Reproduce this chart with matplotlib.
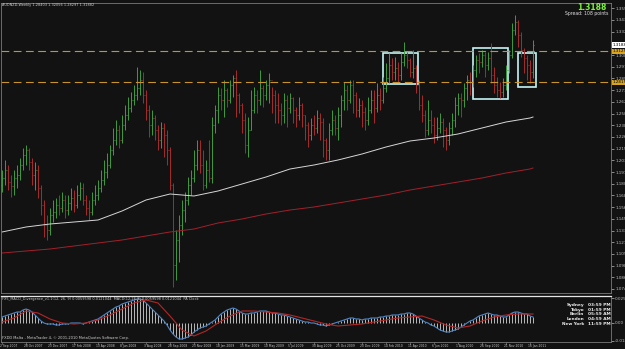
import matplotlib
matplotlib.use('Agg')
import matplotlib.pyplot as plt
from matplotlib.patches import Rectangle
from matplotlib.transforms import blended_transform_factory
import numpy as np

# ---------------- data ----------------
closes = [1.1858, 1.1938, 1.1818, 1.1778, 1.1858, 1.1888, 1.1988, 1.2088, 1.2138, 1.2018,
          1.1888, 1.1938, 1.1758, 1.1588, 1.1388, 1.1338, 1.1488, 1.1518, 1.1588, 1.1558,
          1.1638, 1.1538, 1.1608, 1.1658, 1.1588, 1.1688, 1.1758, 1.1638, 1.1558, 1.1518,
          1.1638, 1.1688, 1.1758, 1.1838, 1.1918, 1.1988, 1.2138, 1.2238, 1.2338, 1.2238,
          1.2388, 1.2488, 1.2558, 1.2638, 1.2688, 1.2758, 1.2838, 1.2688, 1.2538, 1.2388,
          1.2458, 1.2338, 1.2238, 1.2358, 1.2288, 1.2138, 1.1788, 1.0988, 1.1238, 1.1388,
          1.1538, 1.1638, 1.1788, 1.1858, 1.1988, 1.2138, 1.1988, 1.1788, 1.1938, 1.1858,
          1.2388, 1.2538, 1.2688, 1.2638, 1.2738, 1.2638, 1.2788, 1.2858, 1.2688, 1.2588,
          1.2438, 1.2188, 1.2338, 1.2538, 1.2688, 1.2638, 1.2758, 1.2688, 1.2788, 1.2838,
          1.2688, 1.2588, 1.2538, 1.2488, 1.2638, 1.2558, 1.2658, 1.2538, 1.2488, 1.2588,
          1.2488, 1.2388, 1.2288, 1.2388, 1.2358, 1.2458, 1.2418, 1.2238, 1.2138, 1.2338,
          1.2438, 1.2358, 1.2488, 1.2638, 1.2738, 1.2638, 1.2788, 1.2688, 1.2538, 1.2588,
          1.2518, 1.2438, 1.2538, 1.2638, 1.2558, 1.2688, 1.2638, 1.2758, 1.2858, 1.2988,
          1.2918, 1.2958, 1.2888, 1.3018, 1.3088, 1.3038, 1.2918, 1.2958, 1.2788, 1.2588,
          1.2488, 1.2338, 1.2438, 1.2388, 1.2288, 1.2358, 1.2418, 1.2338, 1.2238, 1.2358,
          1.2438, 1.2588, 1.2658, 1.2638, 1.2758, 1.2838, 1.2818, 1.2938, 1.3038, 1.3018,
          1.3088, 1.2988, 1.3058, 1.2888, 1.2788, 1.2738, 1.2718, 1.2788, 1.2938, 1.3088,
          1.3338, 1.3418, 1.3288, 1.3138, 1.3058, 1.2988, 1.2918, 1.3188]

highs = [1.1938, 1.2038, 1.1988, 1.1888, 1.1938, 1.1988, 1.2058, 1.2158, 1.2188, 1.2158,
         1.2058, 1.2018, 1.1988, 1.1788, 1.1638, 1.1488, 1.1558, 1.1638, 1.1658, 1.1688,
         1.1718, 1.1688, 1.1688, 1.1758, 1.1738, 1.1788, 1.1818, 1.1808, 1.1688, 1.1638,
         1.1718, 1.1788, 1.1838, 1.1938, 1.2038, 1.2108, 1.2188, 1.2358, 1.2438, 1.2388,
         1.2488, 1.2588, 1.2668, 1.2718, 1.2788, 1.2968, 1.2938, 1.2918, 1.2738, 1.2588,
         1.2538, 1.2488, 1.2388, 1.2418, 1.2408, 1.2338, 1.2168, 1.1808, 1.1338, 1.1488,
         1.1638, 1.1718, 1.1868, 1.1938, 1.2138, 1.2238, 1.2238, 1.2138, 1.2038, 1.2238,
         1.2468, 1.2588, 1.2768, 1.2758, 1.2838, 1.2758, 1.2838, 1.2888, 1.2938, 1.2708,
         1.2608, 1.2508, 1.2468, 1.2738, 1.2768, 1.2738, 1.2938, 1.2788, 1.2838, 1.2908,
         1.2768, 1.2738, 1.2708, 1.2608, 1.2708, 1.2688, 1.2708, 1.2668, 1.2568, 1.2668,
         1.2608, 1.2488, 1.2418, 1.2458, 1.2488, 1.2538, 1.2508, 1.2458, 1.2258, 1.2408,
         1.2538, 1.2488, 1.2568, 1.2688, 1.2818, 1.2788, 1.2838, 1.2838, 1.2718, 1.2658,
         1.2638, 1.2568, 1.2668, 1.2738, 1.2738, 1.2808, 1.2758, 1.2868, 1.3008, 1.3108,
         1.3058, 1.3068, 1.3018, 1.3108, 1.3218, 1.3118, 1.3058, 1.3138, 1.2988, 1.2838,
         1.2688, 1.2538, 1.2638, 1.2538, 1.2468, 1.2468, 1.2508, 1.2458, 1.2368, 1.2418,
         1.2508, 1.2668, 1.2708, 1.2708, 1.2808, 1.2888, 1.2918, 1.2988, 1.3088, 1.3108,
         1.3138, 1.3118, 1.3118, 1.3208, 1.2968, 1.2868, 1.2818, 1.2858, 1.2988, 1.3138,
         1.3408, 1.3488, 1.3438, 1.3318, 1.3158, 1.3088, 1.3038, 1.3238]

lows = [1.1718, 1.1788, 1.1738, 1.1668, 1.1688, 1.1758, 1.1838, 1.1938, 1.1988, 1.1938,
        1.1788, 1.1738, 1.1658, 1.1488, 1.1268, 1.1238, 1.1288, 1.1418, 1.1458, 1.1488,
        1.1518, 1.1458, 1.1488, 1.1538, 1.1518, 1.1558, 1.1638, 1.1588, 1.1488, 1.1438,
        1.1488, 1.1588, 1.1638, 1.1718, 1.1788, 1.1858, 1.1958, 1.2088, 1.2188, 1.2158,
        1.2208, 1.2338, 1.2438, 1.2518, 1.2588, 1.2638, 1.2688, 1.2608, 1.2438, 1.2268,
        1.2288, 1.2238, 1.2138, 1.2158, 1.2068, 1.1988, 1.1738, 1.0768, 1.0838, 1.1018,
        1.1288, 1.1418, 1.1588, 1.1688, 1.1818, 1.1938, 1.1908, 1.1738, 1.1758, 1.1818,
        1.1808, 1.2308, 1.2408, 1.2538, 1.2468, 1.2568, 1.2608, 1.2668, 1.2468, 1.2508,
        1.2308, 1.2108, 1.2068, 1.2338, 1.2508, 1.2508, 1.2588, 1.2568, 1.2638, 1.2608,
        1.2508, 1.2408, 1.2408, 1.2388, 1.2408, 1.2368, 1.2508, 1.2408, 1.2368, 1.2438,
        1.2368, 1.2238, 1.2168, 1.2238, 1.2288, 1.2308, 1.2238, 1.2068, 1.2038, 1.2038,
        1.2288, 1.2288, 1.2238, 1.2368, 1.2538, 1.2538, 1.2608, 1.2508, 1.2468, 1.2468,
        1.2368, 1.2338, 1.2388, 1.2508, 1.2408, 1.2518, 1.2538, 1.2608, 1.2718, 1.2808,
        1.2838, 1.2838, 1.2818, 1.2838, 1.2978, 1.2958, 1.2868, 1.2858, 1.2708, 1.2538,
        1.2418, 1.2268, 1.2288, 1.2308, 1.2208, 1.2238, 1.2308, 1.2168, 1.2138, 1.2188,
        1.2288, 1.2368, 1.2488, 1.2468, 1.2568, 1.2638, 1.2688, 1.2768, 1.2868, 1.2908,
        1.2968, 1.2868, 1.2938, 1.2808, 1.2708, 1.2668, 1.2658, 1.2668, 1.2738, 1.2908,
        1.3058, 1.3288, 1.3168, 1.3068, 1.2908, 1.2838, 1.2808, 1.2858]

first_open = 1.1788

ma_weeks = [0, 8, 16, 24, 32, 40, 48, 56, 64, 72, 80, 88, 96, 104, 112, 120,
            128, 136, 144, 152, 160, 168, 176, 177]
ma_white = [1.1318, 1.1368, 1.1398, 1.1418, 1.1438, 1.1528, 1.1638, 1.1698,
            1.1678, 1.1728, 1.1798, 1.1868, 1.1948, 1.1988, 1.2038, 1.2098,
            1.2168, 1.2228, 1.2258, 1.2298, 1.2358, 1.2418, 1.2458, 1.2468]
ma_red = [1.1108, 1.1128, 1.1148, 1.1178, 1.1208, 1.1238, 1.1278, 1.1318,
          1.1348, 1.1408, 1.1448, 1.1498, 1.1538, 1.1568, 1.1608, 1.1648,
          1.1688, 1.1738, 1.1778, 1.1818, 1.1858, 1.1908, 1.1948, 1.1958]

macd = [0.006, 0.007, 0.008, 0.009, 0.010, 0.011, 0.011, 0.013, 0.014, 0.013,
        0.011, 0.008, 0.005, 0.002, 0.000, -0.001, -0.001, -0.001, -0.002, -0.002,
        -0.001, -0.001, -0.001, 0.000, 0.000, 0.000, 0.000, -0.001, 0.000, 0.001,
        0.002, 0.003, 0.004, 0.006, 0.008, 0.010, 0.012, 0.014, 0.016, 0.017,
        0.019, 0.020, 0.021, 0.022, 0.023, 0.024, 0.024, 0.023, 0.020, 0.017,
        0.014, 0.011, 0.008, 0.005, 0.002, -0.002, -0.007, -0.011, -0.014, -0.016,
        -0.016, -0.015, -0.014, -0.012, -0.009, -0.007, -0.005, -0.004, -0.003, -0.001,
        0.001, 0.003, 0.006, 0.009, 0.011, 0.013, 0.014, 0.015, 0.014, 0.012,
        0.010, 0.009, 0.009, 0.010, 0.010, 0.011, 0.012, 0.012, 0.012, 0.011,
        0.010, 0.010, 0.009, 0.008, 0.008, 0.007, 0.006, 0.005, 0.004, 0.003,
        0.002, 0.001, 0.001, 0.000, 0.000, -0.001, -0.002, -0.002, -0.003, -0.002,
        -0.001, 0.000, 0.001, 0.002, 0.003, 0.004, 0.005, 0.005, 0.004, 0.004,
        0.003, 0.004, 0.004, 0.005, 0.005, 0.005, 0.006, 0.006, 0.007, 0.007,
        0.008, 0.008, 0.008, 0.009, 0.009, 0.010, 0.010, 0.009, 0.007, 0.005,
        0.003, 0.001, 0.000, -0.002, -0.003, -0.005, -0.007, -0.008, -0.009, -0.009,
        -0.008, -0.007, -0.006, -0.004, -0.002, 0.000, 0.002, 0.003, 0.005, 0.007,
        0.008, 0.009, 0.010, 0.009, 0.008, 0.008, 0.007, 0.006, 0.006, 0.008,
        0.010, 0.011, 0.011, 0.010, 0.009, 0.009, 0.007, 0.006]

sig_weeks = [0, 4, 8, 12, 16, 20, 24, 28, 32, 36, 40, 44, 48, 52, 56, 60, 64, 68,
             72, 76, 80, 84, 88, 92, 96, 100, 104, 108, 112, 116, 120, 124, 128,
             132, 136, 140, 144, 148, 152, 156, 160, 164, 168, 172, 176, 177]
signal = [0.001, 0.005, 0.012, 0.010, 0.004, 0.000, -0.001, 0.000, 0.003, 0.008,
          0.014, 0.020, 0.023, 0.020, 0.007, -0.007, -0.013, -0.008, 0.000, 0.007,
          0.012, 0.012, 0.011, 0.010, 0.008, 0.005, 0.002, -0.001, -0.003, -0.002,
          -0.001, 0.001, 0.003, 0.005, 0.006, 0.007, 0.003, -0.002, -0.005, -0.003,
          0.002, 0.006, 0.008, 0.009, 0.009, 0.009]

date_weeks = list(range(0, 177, 8))
date_labels = ['2 Sep 2007', '28 Oct 2007', '23 Dec 2007', '17 Feb 2008', '13 Apr 2008',
               '8 Jun 2008', '3 Aug 2008', '28 Sep 2008', '23 Nov 2008', '18 Jan 2009',
               '15 Mar 2009', '10 May 2009', '5 Jul 2009', '30 Aug 2009', '25 Oct 2009',
               '20 Dec 2009', '14 Feb 2010', '11 Apr 2010', '6 Jun 2010', '1 Aug 2010',
               '26 Sep 2010', '21 Nov 2010', '16 Jan 2011']

price_ticks = [1.3556, 1.3439, 1.3322, 1.3205, 1.3088, 1.2971, 1.2854, 1.2737,
               1.2620, 1.2503, 1.2386, 1.2269, 1.2152, 1.2035, 1.1918, 1.1801,
               1.1684, 1.1567, 1.1450, 1.1333, 1.1216, 1.1099, 1.0982, 1.0865, 1.0748]
macd_ticks = [0.025, 0.0, -0.018]
macd_tick_labels = ['0.0250', '0.00', '-0.0180']

levels = [1.3125, 1.2815]
bid = 1.3188
# boxes: (first week, last week, low price, high price)
boxes = [(127.0, 138.7, 1.2798, 1.3108),
         (157.0, 168.7, 1.2648, 1.3158),
         (172.0, 178.0, 1.2768, 1.3108)]

clock_cities = ['Sydney', 'Tokyo', 'Berlin', 'London', 'New York']
clock_times = ['03:59 PM', '01:59 PM', '05:59 AM', '04:59 AM', '11:59 PM']

# ---------------- figure ----------------
W, H = 625, 349
BG = '#121212'
GRID = '#7a7a7a'
fig = plt.figure(figsize=(W / 100, H / 100), dpi=100, facecolor=BG)

def fx(px):
    return px / W

def fy(py):
    return 1 - py / H

FS = 3.0
weeks = np.arange(len(closes))
opens = [first_open] + closes[:-1]
XLIM = (-1 / 3, 203)

# main chart
ax = fig.add_axes([fx(1), fy(293), fx(610), 290 / H])
ax.set_facecolor(BG)
ax.set_xlim(*XLIM)
ax.set_ylim(1.0708, 1.3608)

up = '#3f9c3f'
dn = '#a82b2b'
cols = [up if c >= o else dn for o, c in zip(opens, closes)]
ax.vlines(weeks, lows, highs, colors=cols, lw=0.7)
ax.hlines(opens, weeks - 0.4, weeks, colors=cols, lw=0.7)
ax.hlines(closes, weeks, weeks + 0.4, colors=cols, lw=0.7)

ax.plot(ma_weeks, ma_white, color='#d6d6d6', lw=0.7)
ax.plot(ma_weeks, ma_red, color='#a3202c', lw=0.7)

for lv in levels:
    ln = ax.axhline(lv, color='#c8922c', lw=0.8, ls=(0, (7, 4)))
    ln.set_snap(True)

for w0, w1, lo, hi in boxes:
    ax.add_patch(Rectangle((w0, lo), w1 - w0, hi - lo, fill=False,
                           ec='#c4f4f4', lw=1.2))

ax.yaxis.tick_right()
ax.set_yticks(price_ticks)
ax.set_yticklabels([f'{v:.4f}' for v in price_ticks])
ax.tick_params(axis='y', labelsize=FS, colors='#bdbdbd', length=2, width=0.5, pad=1)
ax.set_xticks([])
for s in ax.spines.values():
    s.set_color(GRID)
    s.set_linewidth(0.6)

ytr = ax.get_yaxis_transform()
ax.text(1.003, bid, f'{bid:.4f}', transform=ytr, fontsize=FS, color='black',
        va='center', ha='left', bbox=dict(fc='white', ec='none', pad=0.4))
for lv in levels:
    ax.text(1.003, lv, f'{lv:.4f}', transform=ytr, fontsize=FS, color='black',
            va='center', ha='left', bbox=dict(fc='#d9a520', ec='none', pad=0.4))

# indicator panel
ax2 = fig.add_axes([fx(1), fy(342), fx(610), 46 / H])
ax2.set_facecolor(BG)
ax2.set_xlim(*XLIM)
ax2.set_ylim(-0.019, 0.027)
ax2.vlines(weeks, 0, macd, colors='#d4d4d4', lw=0.6)
ax2.plot(weeks, macd, color='#4f86c6', lw=0.8)
ax2.plot(sig_weeks, signal, color='#b42626', lw=0.8)
ax2.yaxis.tick_right()
ax2.set_yticks(macd_ticks)
ax2.set_yticklabels(macd_tick_labels)
ax2.tick_params(axis='y', labelsize=FS, colors='#bdbdbd', length=2, width=0.5, pad=1)
ax2.set_xticks([])
for s in ax2.spines.values():
    s.set_color(GRID)
    s.set_linewidth(0.6)
ax2.spines['top'].set_color('#e6e6e6')
ax2.spines['top'].set_linewidth(0.9)

# date labels under the indicator
dtr = blended_transform_factory(ax2.transData, fig.transFigure)
for w, lab in zip(date_weeks, date_labels):
    ax2.text(w - 0.6, fy(346), lab, transform=dtr, fontsize=2.2,
             color='#c8c8c8', ha='left', va='center', clip_on=False)
    ax2.plot([w, w], [fy(342), fy(344)], transform=dtr, color=GRID,
             lw=0.5, clip_on=False)

# texts
fig.text(fx(2), fy(5), 'AUDNZD,Weekly 1.28403 1.32056 1.28297 1.31882',
         fontsize=2.5, color='#d0d0d0', ha='left', va='center')
fig.text(fx(607), fy(7), f'{bid:.4f}', fontsize=5.5, color='#7cf23a',
         weight='bold', ha='right', va='center')
fig.text(fx(608), fy(14), 'Spread: 108 points', fontsize=3.3,
         color='#e0e0e0', ha='right', va='center')
fig.text(fx(2), fy(299),
         'FX5_MACD_Divergence_v1.1(12, 26, 9) 0.0059598 0.0121044  '
         'MACD(12,26,9) 0.0059598 0.0121044  PA Clock',
         fontsize=2.5, color='#cfcfcf', ha='left', va='center')
fig.text(fx(2), fy(338),
         'FXDD Malta - MetaTrader 4, \u00a9 2001-2010 MetaQuotes Software Corp.',
         fontsize=2.6, color='#cfcfcf', ha='left', va='center')
for k, (c, t) in enumerate(zip(clock_cities, clock_times)):
    yy = fy(305 + 4.7 * k)
    fig.text(fx(584), yy, c, fontsize=3.1, color='#ececec', ha='right',
             va='center', weight='bold')
    fig.text(fx(588), yy, t, fontsize=3.1, color='#ececec', ha='left',
             va='center', weight='bold')

fig.savefig('out.png', dpi=100, facecolor=BG)
